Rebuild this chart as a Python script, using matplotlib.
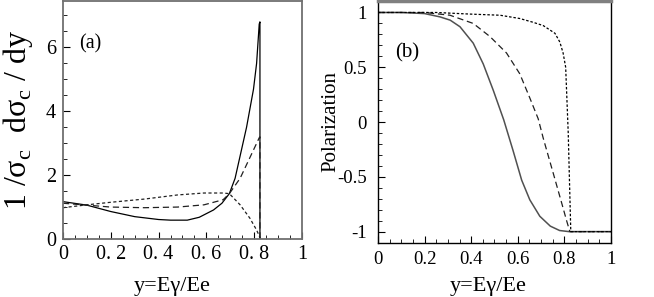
import numpy as np
import matplotlib.pyplot as plt
from matplotlib.ticker import MultipleLocator, FixedLocator

plt.rcParams['font.family'] = ['Liberation Serif', 'DejaVu Serif']
plt.rcParams['mathtext.fontset'] = 'custom'
plt.rcParams['mathtext.rm'] = 'Liberation Serif'

# (a) normalised spectrum 1/sigma dsigma/dy
ya_solid = [0.0, 0.1, 0.2, 0.3, 0.4, 0.45, 0.52, 0.57, 0.63, 0.665, 0.696, 0.72, 0.741, 0.768, 0.797, 0.81, 0.821, 0.824, 0.824]
sa_solid = [1.17, 1.06, 0.86, 0.70, 0.61, 0.59, 0.59, 0.68, 0.91, 1.12, 1.42, 1.9, 2.6, 3.5, 4.69, 5.5, 6.73, 6.8, 0.0]
ya_dash = [0.0, 0.1, 0.2, 0.34, 0.48, 0.59, 0.67, 0.696, 0.741, 0.782, 0.821, 0.824, 0.824]
sa_dash = [1.12, 1.06, 1.0, 0.98, 1.0, 1.07, 1.23, 1.42, 1.9, 2.55, 3.17, 3.2, 0.0]
ya_dot = [0.0, 0.1, 0.2, 0.34, 0.48, 0.59, 0.67, 0.696, 0.741, 0.782, 0.81, 0.827]
sa_dot = [0.98, 1.07, 1.15, 1.25, 1.38, 1.44, 1.44, 1.42, 1.07, 0.65, 0.28, 0.0]

# (b) polarization
yb_solid = [0.0, 0.1, 0.2, 0.266, 0.31, 0.352, 0.409, 0.452, 0.495, 0.54, 0.58, 0.617, 0.652, 0.695, 0.74, 0.78, 0.82, 1.0]
pb_solid = [1.0, 1.0, 0.99, 0.96, 0.93, 0.87, 0.72, 0.53, 0.29, 0.02, -0.26, -0.53, -0.71, -0.86, -0.95, -0.99, -1.0, -1.0]
yb_dash = [0.0, 0.2, 0.309, 0.409, 0.481, 0.552, 0.609, 0.652, 0.688, 0.71, 0.753, 0.789, 0.81, 0.824, 1.0]
pb_dash = [1.0, 1.0, 0.975, 0.90, 0.78, 0.63, 0.44, 0.22, 0.03, -0.15, -0.47, -0.74, -0.90, -1.0, -1.0]
yb_dot = [0.0, 0.25, 0.4, 0.524, 0.609, 0.667, 0.71, 0.76, 0.781, 0.795, 0.806, 0.817, 0.828, 1.0]
pb_dot = [1.0, 1.0, 0.985, 0.975, 0.945, 0.91, 0.88, 0.81, 0.73, 0.63, 0.50, -0.10, -1.0, -1.0]

fig = plt.figure(figsize=(6.54, 2.97), dpi=100)
ax1 = fig.add_axes([0.0963, 0.1953, 0.3655, 0.801])
ax2 = fig.add_axes([0.578, 0.1818, 0.356, 0.816])

lw = 0.9
ax1.plot(ya_solid, sa_solid, color='black', lw=lw)
ax1.plot(ya_dash, sa_dash, color='#202020', lw=lw, ls=(0, (5, 3)))
ax1.plot(ya_dot, sa_dot, color='#202020', lw=lw, ls=(0, (2.5, 2)))
ax1.set_xlim(0, 1)
ax1.set_ylim(0, 7.45)
ax1.xaxis.set_major_locator(FixedLocator([0, 0.2, 0.4, 0.6, 0.8, 1.0]))
ax1.set_xticklabels(['0', '0. 2', '0. 4', '0. 6', '0. 8', '1'])
ax1.xaxis.set_minor_locator(MultipleLocator(0.05))
ax1.yaxis.set_major_locator(MultipleLocator(2))
ax1.yaxis.set_minor_locator(MultipleLocator(0.5))
ax1.tick_params(which='both', direction='in', labelsize=14.5, top=False, right=False)
ax1.tick_params(axis='y', pad=5)
ax1.tick_params(axis='x', pad=4)
ax1.tick_params(which='major', length=5)
ax1.tick_params(which='minor', length=3)
ax1.set_xlabel('y=Eγ/Ee', fontsize=16, labelpad=10)
ax1.xaxis.label.set_x(0.458)
ax1.set_ylabel('1 /σ$_{\\rm c}$  dσ$_{\\rm c}$ / dy', fontsize=23, labelpad=8)
for s in ax1.spines.values():
    s.set_color('#707070')
    s.set_linewidth(1.3)
ax1.text(0.113, 0.82, '(a)', transform=ax1.transAxes, fontsize=14.5, ha='center', va='center')

ax2.plot(yb_solid, pb_solid, color='#505050', lw=lw + 0.2)
ax2.plot(yb_dash, pb_dash, color='#202020', lw=lw, ls=(0, (5, 3)))
ax2.plot(yb_dot, pb_dot, color='black', lw=lw, ls=(0, (2, 1.5)))
ax2.set_xlim(0, 1)
ax2.set_ylim(-1.104, 1.108)
ax2.xaxis.set_major_locator(FixedLocator([0, 0.2, 0.4, 0.6, 0.8, 1.0]))
ax2.set_xticklabels(['0', '0.2', '0.4', '0.6', '0.8', '1'])
ax2.xaxis.set_minor_locator(MultipleLocator(0.05))
ax2.yaxis.set_major_locator(FixedLocator([-1, -0.5, 0, 0.5, 1]))
ax2.set_yticklabels(['-1', '-0.5', '0', '0.5', '1'])
ax2.yaxis.set_minor_locator(MultipleLocator(0.1))
ax2.tick_params(which='both', direction='in', labelsize=13.5, top=False, right=False)
ax2.tick_params(axis='y', pad=8)
ax2.tick_params(axis='x', pad=6)
ax2.tick_params(which='major', length=5)
ax2.tick_params(which='minor', length=3)
ax2.set_xlabel('y=Eγ/Ee', fontsize=16, labelpad=6)
ax2.xaxis.label.set_x(0.472)
ax2.set_ylabel('Polarization', fontsize=15, labelpad=-2)
for s in ax2.spines.values():
    s.set_color('black')
    s.set_linewidth(1.0)
ax2.spines['top'].set_color('#808080')
ax2.spines['top'].set_linewidth(2.5)
ax2.text(0.127, 0.784, '(b)', transform=ax2.transAxes, fontsize=15, ha='center', va='center')

fig.savefig('out.png', dpi=100)
